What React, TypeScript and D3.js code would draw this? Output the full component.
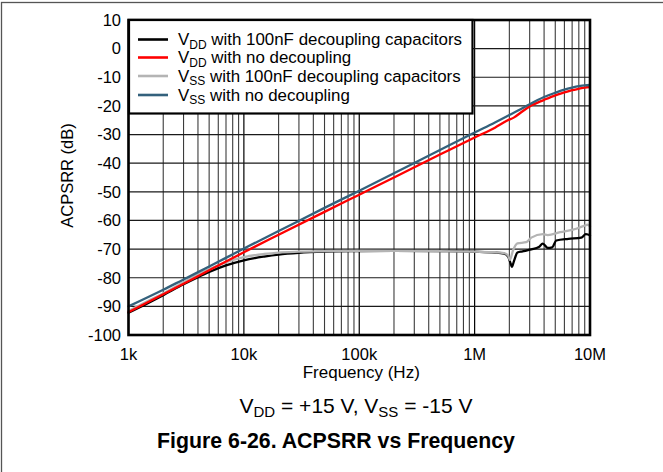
import React from "react";
import * as d3 from "d3";

// Frequency sweep (Hz) and measured ACPSRR (dB) for each supply condition
const vddCapFreq = [1e3, 1.5e3, 2e3, 3e3, 4e3, 5e3, 7e3, 1e4, 1.5e4, 2e4, 3e4, 5e4, 1e5, 2e5, 5e5, 1e6, 1.5e6, 1.8e6, 1.95e6, 2.05e6, 2.1e6, 2.2e6, 2.35e6, 2.6e6, 3.1e6, 3.6e6, 3.9e6, 4.3e6, 4.7e6, 5.1e6, 6.5e6, 8.4e6, 9.2e6, 9.6e6, 1e7];
const vddCapDb = [-92.2, -88.7, -86.1, -82.3, -79.8, -78, -75.7, -73.9, -72.6, -71.9, -71.3, -70.9, -70.7, -70.6, -70.7, -70.9, -71.2, -71.6, -72.6, -75, -76.2, -74, -71.2, -70.8, -70.1, -69.3, -68.1, -69.6, -69.4, -67, -66.4, -66, -64.8, -64.9, -65.3];

const vddNoDecFreq = [1e3, 2e3, 3e3, 5e3, 1e4, 2e4, 5e4, 1e5, 2e5, 5e5, 1e6, 1.5e6, 1.9e6, 2.2e6, 2.5e6, 3e6, 4e6, 5e6, 6e6, 7e6, 8e6, 9e6, 1e7];
const vddNoDecDb = [-92, -85.8, -82.1, -77.4, -71.1, -65, -57, -51, -45, -37, -31, -27.6, -25.2, -24, -22.4, -20.2, -17.9, -16.3, -15.3, -14.5, -14, -13.6, -13.4];

const vssCapFreq = [1e3, 1.5e3, 2e3, 3e3, 4e3, 5e3, 7e3, 1e4, 1.5e4, 2e4, 3e4, 5e4, 1e5, 2e5, 5e5, 1e6, 1.5e6, 1.8e6, 1.95e6, 2.02e6, 2.15e6, 2.35e6, 2.8e6, 3.1e6, 3.9e6, 4.3e6, 5.5e6, 7.6e6, 9.1e6, 9.5e6, 1e7];
const vssCapDb = [-91.6, -88, -85.5, -81.6, -78.8, -77, -74.6, -72.8, -71.7, -71.2, -70.9, -70.7, -70.6, -70.6, -70.7, -70.9, -71.1, -71.4, -72.2, -73.8, -70.5, -68, -67.6, -66, -64.8, -65.1, -64.1, -62.9, -61.7, -61.5, -62];

const vssNoDecFreq = [1e3, 2e3, 3e3, 5e3, 1e4, 2e4, 5e4, 1e5, 2e5, 5e5, 1e6, 1.5e6, 2e6, 2.5e6, 3e6, 4e6, 5e6, 6e6, 7e6, 8e6, 9e6, 1e7];
const vssNoDecDb = [-90, -84.2, -80.6, -76.1, -69.8, -63.7, -55.6, -49.6, -43.5, -35.4, -29.3, -25.8, -23.2, -21.2, -19.4, -16.9, -15.4, -14.3, -13.6, -13.1, -12.8, -12.7];

// Legend entries: [supply, subscript, rest of label]
const legendSupply = ["V", "V", "V", "V"];
const legendSub = ["DD", "DD", "SS", "SS"];
const legendText = [" with 100nF decoupling capacitors", " with no decoupling", " with 100nF decoupling capacitors", " with no decoupling"];
const seriesColors = ["#000000", "#ff0000", "#b4b4b4", "#33617c"];

const xTickValues = [1e3, 1e4, 1e5, 1e6, 1e7];
const xTickLabels = ["1k", "10k", "100k", "1M", "10M"];
const yTickValues = [10, 0, -10, -20, -30, -40, -50, -60, -70, -80, -90, -100];

const FONT = "'Liberation Sans', Arial, Helvetica, sans-serif";

export default function App() {
  const W = 663;
  const H = 472;
  const plot = { left: 128.5, right: 590, top: 20, bottom: 335 };

  const x = d3.scaleLog().domain([1e3, 1e7]).range([plot.left, plot.right]);
  const y = d3.scaleLinear().domain([-100, 10]).range([plot.bottom, plot.top]);

  const series = [
    { f: vddCapFreq, v: vddCapDb },
    { f: vddNoDecFreq, v: vddNoDecDb },
    { f: vssCapFreq, v: vssCapDb },
    { f: vssNoDecFreq, v: vssNoDecDb },
  ];

  const line = d3
    .line<[number, number]>()
    .x((d) => x(d[0]))
    .y((d) => y(d[1]))
    .curve(d3.curveMonotoneX);

  // Grid: decades are major, 2..9 are minor
  const minorX: number[] = [];
  const majorX: number[] = [];
  for (let dec = 1e3; dec <= 1e7; dec *= 10) {
    majorX.push(dec);
    if (dec < 1e7) for (let m = 2; m <= 9; m++) minorX.push(dec * m);
  }

  // Draw order: black, gray, red, blue (blue on top)
  const drawOrder = [0, 2, 1, 3];

  const legend = { x0: 129, y0: 20, x1: 472.5, y1: 113.5 };
  const rowY = [39.5, 57.5, 76, 95];

  return (
    <svg width={W} height={H} style={{ position: "absolute", left: 0, top: 0, background: "#fff" }} fontFamily={FONT}>
      <rect x={0} y={0} width={W} height={H} fill="#ffffff" />
      {/* outer frame */}
      <rect x={1.5} y={2.5} width={W + 10} height={H + 10} fill="none" stroke="#555" strokeWidth={1.3} />

      {/* grid */}
      <g>
        {minorX.map((f) => (
          <line key={"mx" + f} x1={x(f)} x2={x(f)} y1={plot.top} y2={plot.bottom} stroke="#3c3c3c" strokeWidth={1.1} />
        ))}
        {majorX.map((f) => (
          <line key={"Mx" + f} x1={x(f)} x2={x(f)} y1={plot.top} y2={plot.bottom} stroke="#000" strokeWidth={1.2} />
        ))}
        {yTickValues.map((v) => (
          <line key={"gy" + v} x1={plot.left} x2={plot.right} y1={y(v)} y2={y(v)} stroke="#1a1a1a" strokeWidth={1.2} />
        ))}
      </g>

      {/* curves */}
      <g fill="none" strokeWidth={2.3} strokeLinejoin="round" strokeLinecap="round">
        {drawOrder.map((i) => {
          const s = series[i];
          const pts = s.f.map((f, k) => [f, s.v[k]] as [number, number]);
          return <path key={"s" + i} d={line(pts) || ""} stroke={seriesColors[i]} />;
        })}
      </g>

      {/* plot frame */}
      <rect x={plot.left} y={plot.top} width={plot.right - plot.left} height={plot.bottom - plot.top} fill="none" stroke="#000" strokeWidth={2.6} />

      {/* legend */}
      <rect x={legend.x0} y={legend.y0} width={legend.x1 - legend.x0} height={legend.y1 - legend.y0} fill="#fff" stroke="#000" strokeWidth={2.2} />
      {legendText.map((t, i) => (
        <g key={"lg" + i}>
          <line x1={138} x2={168} y1={rowY[i]} y2={rowY[i]} stroke={seriesColors[i]} strokeWidth={2.6} />
          <text x={178} y={rowY[i] + 5.8} fontSize={16.9} fill="#000">
            {legendSupply[i]}
            <tspan fontSize={12} dy={3.5}>{legendSub[i]}</tspan>
            <tspan dy={-3.5}>{t}</tspan>
          </text>
        </g>
      ))}

      {/* y tick labels */}
      {yTickValues.map((v) => (
        <text key={"yt" + v} x={121} y={y(v)} dy="0.35em" textAnchor="end" fontSize={16.5} fill="#000">
          {v}
        </text>
      ))}

      {/* x tick labels */}
      {xTickValues.map((v, i) => (
        <text key={"xt" + v} x={x(v)} y={360} textAnchor="middle" fontSize={16.5} fill="#000">
          {xTickLabels[i]}
        </text>
      ))}

      {/* axis titles */}
      <text x={(plot.left + plot.right) / 2 + 2} y={377.5} textAnchor="middle" fontSize={17} fill="#000">
        Frequency (Hz)
      </text>
      <text transform="translate(72.5,175.5) rotate(-90)" textAnchor="middle" fontSize={16.5} fill="#000">
        ACPSRR (dB)
      </text>

      {/* conditions and caption */}
      <text x={356} y={413} textAnchor="middle" fontSize={21} fill="#000">
        V<tspan fontSize={15} dy={4}>DD</tspan>
        <tspan dy={-4}> = +15 V, V</tspan>
        <tspan fontSize={15} dy={4}>SS</tspan>
        <tspan dy={-4}> = -15 V</tspan>
      </text>
      <text x={336} y={448} textAnchor="middle" fontSize={21.3} fontWeight="bold" fill="#000">
        Figure 6-26. ACPSRR vs Frequency
      </text>
    </svg>
  );
}
